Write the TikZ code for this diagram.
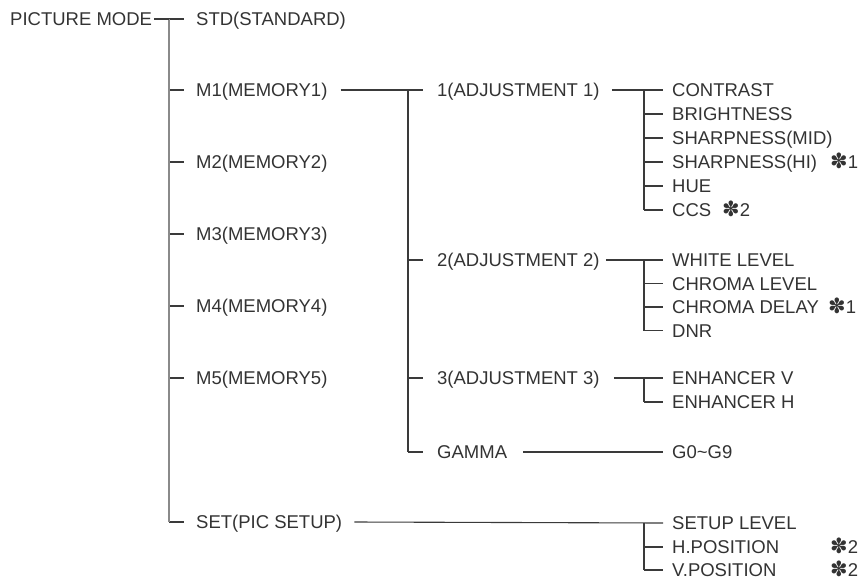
\documentclass[tikz,border=0pt]{standalone}
\usepackage{fontspec}
\setmainfont{Liberation Sans}
\newfontfamily\symfont{DejaVu Sans}
\definecolor{txt}{HTML}{333333}
\definecolor{trunkgray}{HTML}{8A8A8A}
\definecolor{wiregray}{HTML}{3A3A3A}

\begin{document}
\begin{tikzpicture}[x=1pt,y=-1pt,
  item/.style={anchor=west, inner sep=0pt, text height=13pt, text depth=0pt,
               text=txt, font=\fontsize{18.5}{20}\selectfont},
  note/.style={item, font=\fontsize{18.5}{20}\selectfont},
  wire/.style={draw=wiregray, line width=1.1pt},
  trunk/.style={draw=trunkgray, line width=1.3pt}]

\useasboundingbox (0,0) rectangle (858,583);

\node[item] (pm) at (10,19) {PICTURE MODE};
\coordinate (t) at (169,19);
\coordinate (u) at (408,90);
\coordinate (v) at (644,0);

\foreach \n/\y/\t in {std/19/STD(STANDARD), m1/90/M1(MEMORY1), m2/162/M2(MEMORY2),
                      m3/234/M3(MEMORY3), m4/306/M4(MEMORY4), m5/378/M5(MEMORY5),
                      set/522/SET(PIC SETUP)}{
       \node[item] (\n) at (196,\y) {\t};
       \draw[wire] (t |- \n.west) -- ([xshift=-12pt]\n.west);
}
\draw[trunk] (t) -- (t |- set.west);
\draw[wire] ([xshift=2pt]pm.east) -- (t);

\foreach \n/\y/\t in {a1/90/1(ADJUSTMENT 1), a2/260/2(ADJUSTMENT 2),
                      a3/378/3(ADJUSTMENT 3), gm/452/GAMMA}{
       \node[item] (\n) at (437,\y) {\t};
       \draw[wire] (u |- \n.west) -- ([xshift=-14pt]\n.west);
}
\draw[wire] (u) -- (u |- gm.west);
\draw[wire] ([xshift=13pt]m1.east) -- (u);

\foreach \n/\y/\t in {c1/90/CONTRAST, c2/114/BRIGHTNESS, c3/138/SHARPNESS(MID),
                      c4/162/SHARPNESS(HI), c5/186/HUE, c6/210/CCS,
                      w1/260/WHITE LEVEL, w2/283.5/CHROMA LEVEL, w3/307/CHROMA DELAY, w4/330.5/DNR,
                      e1/378/ENHANCER V, e2/402/ENHANCER H,
                      g/452/G0\textasciitilde G9,
                      s1/523/SETUP LEVEL, s2/547/H.POSITION, s3/570/V.POSITION}{
       \node[item] (\n) at (672,\y) {\t};
}
\foreach \n in {c2,c3,c4,c5,c6,w2,w3,w4,e2,s2,s3}{
       \draw[wire] (v |- \n.west) -- ([xshift=-9pt]\n.west);
}
\draw[wire] (v |- c1.west) -- (v |- c6.west);
\draw[wire] (v |- w1.west) -- (v |- w4.west);
\draw[wire] (v |- e1.west) -- (v |- e2.west);
\draw[wire] (v |- s1.west) -- (v |- s3.west);

\draw[wire] ([xshift=12pt]a1.east) -- ([xshift=-9pt]c1.west);
\draw[wire] ([xshift=6pt]a2.east) -- ([xshift=-9pt]w1.west);
\draw[wire] ([xshift=14pt]a3.east) -- ([xshift=-9pt]e1.west);
\draw[wire] ([xshift=16pt]gm.east) -- ([xshift=-9pt]g.west);
\draw[wire] ([xshift=12pt]set.east) -- ([xshift=-9pt]s1.west);

\foreach \n/\x/\y/\t in {n1/830/162/1, n2/722/210/2, n3/828/307/1,
                         n4/830/547/2, n5/830/570/2}{
       \node[note] (\n) at (\x,\y) {{\symfont\fontsize{21}{22}\selectfont ✽}\t};
}

\end{tikzpicture}
\end{document}
